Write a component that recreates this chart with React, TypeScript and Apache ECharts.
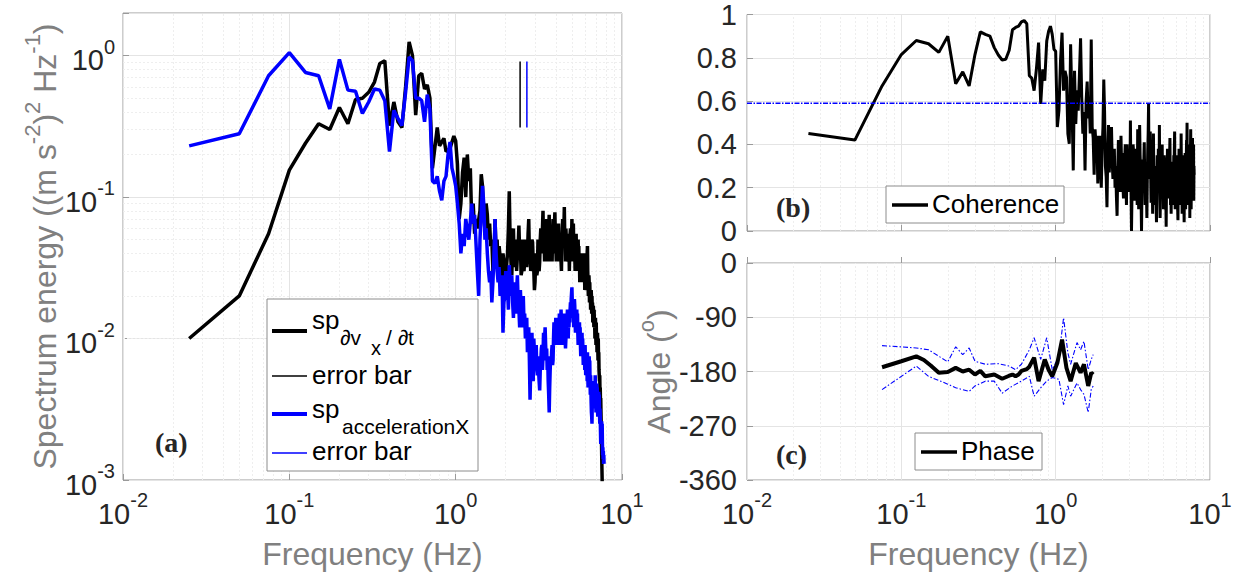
import React, { useEffect, useRef } from "react";
import * as echarts from "echarts";

// ---------------- data ----------------
const spDvdt: [number, number][] = [
  [0.025, 0.01], [0.05, 0.02], [0.075, 0.055], [0.1, 0.155], [0.125, 0.24], [0.15, 0.33],
  [0.175, 0.3], [0.2, 0.43], [0.225, 0.33], [0.25, 0.49], [0.275, 0.5], [0.3, 0.55],
  [0.325, 0.65], [0.35, 0.88], [0.375, 0.92], [0.4, 0.32], [0.425, 0.47], [0.45, 0.34],
  [0.475, 0.31], [0.5, 0.6], [0.525, 1.25], [0.55, 1.0], [0.575, 0.38], [0.6, 0.72],
  [0.625, 0.75], [0.65, 0.58], [0.675, 0.62], [0.7, 0.5], [0.725, 0.16], [0.775, 0.31],
  [0.8, 0.23], [0.85, 0.26], [0.875, 0.21], [0.925, 0.22], [0.975, 0.27], [1.0, 0.25],
  [1.025, 0.17], [1.05, 0.07], [1.075, 0.09], [1.1, 0.15], [1.125, 0.19], [1.15, 0.1],
  [1.175, 0.2], [1.2, 0.13], [1.225, 0.16], [1.25, 0.065], [1.275, 0.09], [1.3, 0.055],
  [1.325, 0.07], [1.35, 0.06], [1.4, 0.08], [1.425, 0.145], [1.45, 0.12], [1.475, 0.07],
  [1.5, 0.06], [1.525, 0.09], [1.55, 0.075], [1.575, 0.05], [1.6, 0.065], [1.625, 0.045],
  [1.65, 0.05], [1.675, 0.03], [1.7, 0.035], [1.725, 0.07], [1.75, 0.04], [1.775, 0.05],
  [1.8, 0.032], [1.825, 0.045], [1.85, 0.038], [1.875, 0.025], [1.9, 0.028], [1.925, 0.04],
  [1.95, 0.035], [1.975, 0.022], [2.0, 0.025], [2.025, 0.033], [2.05, 0.04], [2.075, 0.06],
  [2.1, 0.11], [2.125, 0.05], [2.15, 0.035], [2.175, 0.028], [2.2, 0.045], [2.225, 0.06],
  [2.25, 0.032], [2.275, 0.04], [2.3, 0.05], [2.325, 0.03], [2.35, 0.038], [2.375, 0.045],
  [2.4, 0.063], [2.425, 0.04], [2.45, 0.045], [2.475, 0.028], [2.5, 0.03], [2.525, 0.05],
  [2.55, 0.042], [2.575, 0.03], [2.6, 0.035], [2.625, 0.045], [2.65, 0.05], [2.675, 0.032],
  [2.7, 0.038], [2.725, 0.055], [2.75, 0.07], [2.775, 0.04], [2.8, 0.045], [2.825, 0.03],
  [2.85, 0.035], [2.875, 0.05], [2.9, 0.048], [2.925, 0.035], [2.95, 0.03], [2.975, 0.022],
  [3.0, 0.025], [3.025, 0.035], [3.05, 0.04], [3.075, 0.028], [3.1, 0.03], [3.125, 0.05],
  [3.15, 0.045], [3.175, 0.03], [3.2, 0.035], [3.225, 0.05], [3.25, 0.06], [3.275, 0.04],
  [3.3, 0.045], [3.325, 0.06], [3.35, 0.08], [3.375, 0.045], [3.4, 0.05], [3.425, 0.035],
  [3.45, 0.065], [3.475, 0.05], [3.5, 0.04], [3.525, 0.07], [3.55, 0.055], [3.575, 0.035],
  [3.6, 0.045], [3.625, 0.06], [3.65, 0.075], [3.675, 0.045], [3.7, 0.05], [3.725, 0.035],
  [3.75, 0.06], [3.775, 0.045], [3.8, 0.035], [3.825, 0.055], [3.85, 0.07], [3.875, 0.04],
  [3.9, 0.05], [3.925, 0.065], [3.95, 0.078], [3.975, 0.05], [4.0, 0.045], [4.025, 0.035],
  [4.05, 0.06], [4.075, 0.05], [4.1, 0.04], [4.125, 0.055], [4.15, 0.065], [4.175, 0.04],
  [4.2, 0.05], [4.225, 0.035], [4.25, 0.055], [4.275, 0.045], [4.3, 0.035], [4.325, 0.03],
  [4.35, 0.05], [4.375, 0.06], [4.4, 0.07], [4.425, 0.05], [4.45, 0.045], [4.475, 0.06],
  [4.5, 0.085], [4.525, 0.055], [4.55, 0.05], [4.575, 0.035], [4.6, 0.06], [4.625, 0.05],
  [4.65, 0.04], [4.675, 0.055], [4.7, 0.05], [4.725, 0.04], [4.75, 0.035], [4.775, 0.05],
  [4.8, 0.045], [4.825, 0.03], [4.85, 0.04], [4.875, 0.055], [4.9, 0.06], [4.925, 0.045],
  [4.95, 0.04], [4.975, 0.05], [5.0, 0.07], [5.025, 0.045], [5.05, 0.05], [5.075, 0.035],
  [5.1, 0.065], [5.125, 0.045], [5.15, 0.04], [5.175, 0.05], [5.2, 0.04], [5.225, 0.03],
  [5.25, 0.045], [5.275, 0.05], [5.3, 0.055], [5.325, 0.035], [5.35, 0.04], [5.375, 0.03],
  [5.4, 0.03], [5.425, 0.042], [5.45, 0.05], [5.475, 0.035], [5.5, 0.045], [5.525, 0.03],
  [5.55, 0.035], [5.575, 0.025], [5.6, 0.03], [5.625, 0.04], [5.65, 0.038], [5.675, 0.028],
  [5.7, 0.038], [5.725, 0.03], [5.75, 0.033], [5.775, 0.025], [5.8, 0.028], [5.825, 0.036],
  [5.85, 0.04], [5.875, 0.03], [5.9, 0.04], [5.925, 0.028], [5.95, 0.03], [5.975, 0.022],
  [6.0, 0.026], [6.025, 0.032], [6.05, 0.035], [6.075, 0.025], [6.1, 0.035], [6.125, 0.028],
  [6.15, 0.03], [6.175, 0.04], [6.2, 0.045], [6.225, 0.03], [6.25, 0.025], [6.275, 0.02],
  [6.3, 0.022], [6.325, 0.028], [6.35, 0.025], [6.375, 0.018], [6.4, 0.025], [6.425, 0.02],
  [6.45, 0.022], [6.475, 0.016], [6.5, 0.018], [6.525, 0.022], [6.55, 0.02], [6.575, 0.015],
  [6.6, 0.02], [6.625, 0.016], [6.65, 0.018], [6.675, 0.013], [6.7, 0.014], [6.725, 0.017],
  [6.75, 0.015], [6.775, 0.012], [6.8, 0.016], [6.825, 0.012], [6.85, 0.013], [6.875, 0.01],
  [6.9, 0.012], [6.925, 0.014], [6.95, 0.011], [6.975, 0.009], [7.0, 0.013], [7.025, 0.01],
  [7.05, 0.011], [7.075, 0.008], [7.1, 0.009], [7.125, 0.011], [7.15, 0.009], [7.175, 0.007],
  [7.2, 0.01], [7.225, 0.007], [7.25, 0.008], [7.275, 0.006], [7.3, 0.006], [7.325, 0.005],
  [7.35, 0.0055], [7.375, 0.004], [7.4, 0.0045], [7.425, 0.0035], [7.45, 0.0038], [7.475, 0.003],
  [7.5, 0.003], [7.525, 0.002], [7.55, 0.0015], [7.575, 0.0012], [7.6, 0.00098],
];

const spAccX: [number, number][] = [
  [0.025, 0.23], [0.05, 0.28], [0.075, 0.72], [0.1, 1.05], [0.125, 0.76], [0.15, 0.72],
  [0.175, 0.42], [0.2, 0.94], [0.225, 0.57], [0.25, 0.56], [0.275, 0.39], [0.3, 0.47],
  [0.325, 0.58], [0.35, 0.57], [0.375, 0.48], [0.4, 0.21], [0.425, 0.41], [0.45, 0.36],
  [0.475, 0.32], [0.5, 0.55], [0.525, 0.98], [0.55, 0.92], [0.575, 0.5], [0.6, 0.5],
  [0.625, 0.48], [0.65, 0.34], [0.675, 0.53], [0.7, 0.42], [0.725, 0.13], [0.75, 0.125],
  [0.775, 0.14], [0.8, 0.11], [0.825, 0.095], [0.85, 0.13], [0.875, 0.14], [0.9, 0.2],
  [0.925, 0.245], [0.95, 0.16], [0.975, 0.14], [1.0, 0.12], [1.025, 0.09], [1.05, 0.065],
  [1.075, 0.04], [1.1, 0.055], [1.125, 0.045], [1.15, 0.07], [1.2, 0.05], [1.25, 0.09],
  [1.275, 0.065], [1.3, 0.075], [1.35, 0.03], [1.375, 0.02], [1.4, 0.05], [1.45, 0.12],
  [1.475, 0.09], [1.5, 0.05], [1.525, 0.06], [1.55, 0.04], [1.575, 0.03], [1.6, 0.025],
  [1.625, 0.03], [1.65, 0.018], [1.675, 0.025], [1.7, 0.04], [1.725, 0.07], [1.75, 0.04],
  [1.775, 0.03], [1.8, 0.025], [1.825, 0.032], [1.85, 0.02], [1.875, 0.024], [1.9, 0.028],
  [1.925, 0.011], [1.95, 0.018], [1.975, 0.02], [2.0, 0.03], [2.025, 0.02], [2.05, 0.022],
  [2.075, 0.016], [2.1, 0.033], [2.125, 0.025], [2.15, 0.02], [2.175, 0.028], [2.2, 0.018],
  [2.225, 0.014], [2.25, 0.025], [2.275, 0.02], [2.3, 0.015], [2.325, 0.022], [2.35, 0.028],
  [2.375, 0.018], [2.4, 0.016], [2.425, 0.012], [2.45, 0.022], [2.475, 0.016], [2.5, 0.012],
  [2.525, 0.017], [2.55, 0.02], [2.575, 0.013], [2.6, 0.015], [2.625, 0.01], [2.65, 0.011],
  [2.675, 0.014], [2.7, 0.008], [2.725, 0.01], [2.75, 0.012], [2.775, 0.007], [2.8, 0.0037],
  [2.825, 0.006], [2.85, 0.009], [2.875, 0.011], [2.9, 0.007], [2.925, 0.005], [2.95, 0.01],
  [2.975, 0.008], [3.0, 0.006], [3.025, 0.007], [3.05, 0.009], [3.075, 0.006], [3.1, 0.0055],
  [3.125, 0.0075], [3.15, 0.006], [3.175, 0.005], [3.2, 0.0043], [3.225, 0.006], [3.25, 0.007],
  [3.275, 0.0085], [3.3, 0.009], [3.325, 0.006], [3.35, 0.0075], [3.375, 0.011], [3.4, 0.008],
  [3.425, 0.01], [3.45, 0.012], [3.475, 0.009], [3.5, 0.007], [3.525, 0.0085], [3.55, 0.006],
  [3.575, 0.0075], [3.6, 0.005], [3.625, 0.004], [3.65, 0.003], [3.675, 0.0045], [3.7, 0.006],
  [3.725, 0.0075], [3.75, 0.0065], [3.775, 0.008], [3.8, 0.009], [3.825, 0.0065], [3.85, 0.007],
  [3.875, 0.01], [3.9, 0.013], [3.925, 0.01], [3.95, 0.009], [3.975, 0.012], [4.0, 0.014],
  [4.025, 0.011], [4.05, 0.009], [4.075, 0.012], [4.1, 0.01], [4.125, 0.013], [4.15, 0.011],
  [4.175, 0.0095], [4.2, 0.015], [4.225, 0.012], [4.25, 0.009], [4.275, 0.012], [4.3, 0.016],
  [4.325, 0.013], [4.35, 0.01], [4.375, 0.014], [4.4, 0.011], [4.425, 0.009], [4.45, 0.012],
  [4.475, 0.013], [4.5, 0.015], [4.525, 0.011], [4.55, 0.01], [4.575, 0.0085], [4.6, 0.01],
  [4.625, 0.013], [4.65, 0.012], [4.675, 0.014], [4.7, 0.016], [4.725, 0.012], [4.75, 0.01],
  [4.775, 0.013], [4.8, 0.012], [4.825, 0.015], [4.85, 0.013], [4.875, 0.016], [4.9, 0.018],
  [4.925, 0.014], [4.95, 0.019], [4.975, 0.021], [5.0, 0.023], [5.025, 0.018], [5.05, 0.014],
  [5.075, 0.016], [5.1, 0.015], [5.125, 0.012], [5.15, 0.016], [5.175, 0.019], [5.2, 0.017],
  [5.225, 0.013], [5.25, 0.011], [5.275, 0.014], [5.3, 0.011], [5.325, 0.013], [5.35, 0.016],
  [5.375, 0.012], [5.4, 0.015], [5.425, 0.011], [5.45, 0.009], [5.475, 0.012], [5.5, 0.009],
  [5.525, 0.011], [5.55, 0.013], [5.575, 0.01], [5.6, 0.012], [5.625, 0.009], [5.65, 0.0075],
  [5.675, 0.01], [5.7, 0.008], [5.725, 0.0095], [5.75, 0.011], [5.775, 0.0085], [5.8, 0.01],
  [5.825, 0.008], [5.85, 0.0065], [5.875, 0.008], [5.9, 0.007], [5.925, 0.009], [5.95, 0.0075],
  [5.975, 0.006], [6.0, 0.009], [6.025, 0.007], [6.05, 0.0055], [6.075, 0.0065], [6.1, 0.006],
  [6.125, 0.008], [6.15, 0.0065], [6.175, 0.005], [6.2, 0.008], [6.225, 0.006], [6.25, 0.0045],
  [6.275, 0.0055], [6.3, 0.005], [6.325, 0.0065], [6.35, 0.0075], [6.375, 0.0055], [6.4, 0.007],
  [6.425, 0.005], [6.45, 0.004], [6.475, 0.0055], [6.5, 0.0045], [6.525, 0.0035], [6.55, 0.003],
  [6.575, 0.0028], [6.6, 0.0025], [6.625, 0.0035], [6.65, 0.0045], [6.675, 0.004], [6.7, 0.005],
  [6.725, 0.0038], [6.75, 0.0032], [6.775, 0.0045], [6.8, 0.004], [6.825, 0.005], [6.85, 0.0042],
  [6.875, 0.0035], [6.9, 0.0055], [6.925, 0.0045], [6.95, 0.0038], [6.975, 0.003], [7.0, 0.0035],
  [7.025, 0.0042], [7.05, 0.0048], [7.075, 0.0036], [7.1, 0.0045], [7.125, 0.0032], [7.15, 0.0028],
  [7.175, 0.0036], [7.2, 0.003], [7.225, 0.0038], [7.25, 0.0042], [7.275, 0.0032], [7.3, 0.004],
  [7.325, 0.003], [7.35, 0.0025], [7.375, 0.0032], [7.4, 0.0028], [7.425, 0.0022], [7.45, 0.0018],
  [7.475, 0.0021], [7.5, 0.0018], [7.525, 0.0024], [7.55, 0.0026], [7.575, 0.002], [7.6, 0.0025],
  [7.625, 0.0018], [7.65, 0.0015], [7.675, 0.0017], [7.7, 0.0014], [7.725, 0.0016], [7.75, 0.0013],
  [7.775, 0.0015], [7.8, 0.0013],
];

const errBarDvdt: [number, number][] = [[2.44, 0.31], [2.44, 0.91]];
const errBarAccX: [number, number][] = [[2.68, 0.31], [2.68, 0.91]];

const coherence: [number, number][] = [
  [0.025, 0.45], [0.05, 0.42], [0.075, 0.67], [0.1, 0.815], [0.125, 0.88], [0.15, 0.865],
  [0.175, 0.825], [0.2, 0.9], [0.225, 0.68], [0.25, 0.735], [0.275, 0.67], [0.3, 0.815],
  [0.325, 0.92], [0.35, 0.908], [0.375, 0.9], [0.4, 0.847], [0.425, 0.813], [0.45, 0.79],
  [0.475, 0.793], [0.5, 0.835], [0.525, 0.93], [0.55, 0.94], [0.575, 0.946], [0.6, 0.966],
  [0.625, 0.972], [0.65, 0.957], [0.675, 0.717], [0.7, 0.706], [0.725, 0.648], [0.75, 0.747],
  [0.775, 0.87], [0.8, 0.587], [0.825, 0.747], [0.85, 0.694], [0.875, 0.877], [0.9, 0.923],
  [0.925, 0.946], [0.95, 0.908], [0.975, 0.839], [1.0, 0.83], [1.025, 0.48], [1.05, 0.556],
  [1.075, 0.786], [1.1, 0.916], [1.125, 0.648], [1.15, 0.74], [1.175, 0.71], [1.2, 0.449],
  [1.225, 0.403], [1.25, 0.862], [1.275, 0.6], [1.3, 0.28], [1.325, 0.74], [1.35, 0.495],
  [1.375, 0.65], [1.4, 0.556], [1.425, 0.72], [1.45, 0.89], [1.475, 0.62], [1.5, 0.449],
  [1.525, 0.55], [1.55, 0.28], [1.575, 0.6], [1.6, 0.69], [1.625, 0.52], [1.65, 0.6],
  [1.675, 0.45], [1.7, 0.885], [1.725, 0.48], [1.75, 0.43], [1.775, 0.26], [1.8, 0.47],
  [1.825, 0.4], [1.85, 0.44], [1.875, 0.22], [1.9, 0.38], [1.925, 0.44], [1.95, 0.3],
  [1.975, 0.2], [2.0, 0.38], [2.025, 0.48], [2.05, 0.7], [2.075, 0.55], [2.1, 0.3],
  [2.125, 0.25], [2.15, 0.11], [2.175, 0.35], [2.2, 0.49], [2.225, 0.27], [2.25, 0.36],
  [2.275, 0.42], [2.3, 0.48], [2.325, 0.32], [2.35, 0.24], [2.375, 0.3], [2.4, 0.38],
  [2.425, 0.2], [2.45, 0.3], [2.475, 0.16], [2.5, 0.07], [2.525, 0.28], [2.55, 0.42],
  [2.575, 0.35], [2.6, 0.28], [2.625, 0.18], [2.65, 0.44], [2.675, 0.3], [2.7, 0.36],
  [2.725, 0.22], [2.75, 0.15], [2.775, 0.27], [2.8, 0.33], [2.825, 0.4], [2.85, 0.26],
  [2.875, 0.12], [2.9, 0.4], [2.925, 0.3], [2.95, 0.18], [2.975, 0.25], [3.0, 0.3],
  [3.025, 0.2], [3.05, 0.51], [3.075, 0.22], [3.1, 0.0], [3.125, 0.18], [3.15, 0.25],
  [3.175, 0.4], [3.2, 0.36], [3.225, 0.2], [3.25, 0.14], [3.275, 0.26], [3.3, 0.3],
  [3.325, 0.38], [3.35, 0.22], [3.375, 0.12], [3.4, 0.47], [3.425, 0.3], [3.45, 0.1],
  [3.475, 0.25], [3.5, 0.49], [3.525, 0.35], [3.55, 0.28], [3.575, 0.15], [3.6, 0.0],
  [3.625, 0.2], [3.65, 0.33], [3.675, 0.25], [3.7, 0.2], [3.725, 0.32], [3.75, 0.41],
  [3.775, 0.25], [3.8, 0.12], [3.825, 0.22], [3.85, 0.32], [3.875, 0.18], [3.9, 0.06],
  [3.925, 0.25], [3.95, 0.37], [3.975, 0.45], [4.0, 0.59], [4.025, 0.3], [4.05, 0.24],
  [4.075, 0.35], [4.1, 0.46], [4.125, 0.28], [4.15, 0.13], [4.175, 0.2], [4.2, 0.33],
  [4.225, 0.24], [4.25, 0.08], [4.275, 0.3], [4.3, 0.45], [4.325, 0.27], [4.35, 0.12],
  [4.375, 0.2], [4.4, 0.3], [4.425, 0.16], [4.45, 0.25], [4.475, 0.14], [4.5, 0.04],
  [4.525, 0.2], [4.55, 0.35], [4.575, 0.28], [4.6, 0.22], [4.625, 0.38], [4.65, 0.3],
  [4.675, 0.18], [4.7, 0.49], [4.725, 0.2], [4.75, 0.06], [4.775, 0.15], [4.8, 0.28],
  [4.825, 0.2], [4.85, 0.35], [4.875, 0.22], [4.9, 0.4], [4.925, 0.25], [4.95, 0.15],
  [4.975, 0.3], [5.0, 0.1], [5.025, 0.22], [5.05, 0.35], [5.075, 0.28], [5.1, 0.34],
  [5.125, 0.18], [5.15, 0.1], [5.175, 0.15], [5.2, 0.02], [5.225, 0.2], [5.25, 0.3],
  [5.275, 0.22], [5.3, 0.38], [5.325, 0.28], [5.35, 0.15], [5.375, 0.25], [5.4, 0.15],
  [5.425, 0.3], [5.45, 0.2], [5.475, 0.35], [5.5, 0.43], [5.525, 0.25], [5.55, 0.12],
  [5.575, 0.2], [5.6, 0.08], [5.625, 0.22], [5.65, 0.32], [5.675, 0.18], [5.7, 0.32],
  [5.725, 0.25], [5.75, 0.12], [5.775, 0.3], [5.8, 0.2], [5.825, 0.35], [5.85, 0.25],
  [5.875, 0.38], [5.9, 0.46], [5.925, 0.2], [5.95, 0.1], [5.975, 0.22], [6.0, 0.1],
  [6.025, 0.25], [6.05, 0.35], [6.075, 0.2], [6.1, 0.35], [6.125, 0.15], [6.15, 0.28],
  [6.175, 0.1], [6.2, 0.05], [6.225, 0.2], [6.25, 0.3], [6.275, 0.22], [6.3, 0.38],
  [6.325, 0.25], [6.35, 0.12], [6.375, 0.3], [6.4, 0.18], [6.425, 0.28], [6.45, 0.35],
  [6.475, 0.2], [6.5, 0.45], [6.525, 0.3], [6.55, 0.15], [6.575, 0.25], [6.6, 0.08],
  [6.625, 0.2], [6.65, 0.35], [6.675, 0.22], [6.7, 0.3], [6.725, 0.15], [6.75, 0.25],
  [6.775, 0.12], [6.8, 0.04], [6.825, 0.2], [6.85, 0.3], [6.875, 0.25], [6.9, 0.36],
  [6.925, 0.2], [6.95, 0.1], [6.975, 0.28], [7.0, 0.2], [7.025, 0.35], [7.05, 0.42],
  [7.075, 0.3], [7.1, 0.5], [7.125, 0.25], [7.15, 0.15], [7.175, 0.3], [7.2, 0.12],
  [7.225, 0.25], [7.25, 0.35], [7.275, 0.2], [7.3, 0.4], [7.325, 0.22], [7.35, 0.15],
  [7.375, 0.3], [7.4, 0.06], [7.425, 0.2], [7.45, 0.3], [7.475, 0.38], [7.5, 0.47],
  [7.525, 0.25], [7.55, 0.1], [7.575, 0.28], [7.6, 0.15], [7.625, 0.3], [7.65, 0.35],
  [7.675, 0.2], [7.7, 0.43], [7.725, 0.3], [7.75, 0.18], [7.775, 0.28], [7.8, 0.22],
  [7.825, 0.4], [7.85, 0.14], [7.875, 0.3], [7.9, 0.26],
];
const coherenceThreshold = 0.59;

const phase: [number, number][] = [
  [0.075, -173], [0.1, -163], [0.125, -155], [0.14, -161], [0.155, -170], [0.175, -182],
  [0.2, -181], [0.225, -174], [0.25, -180], [0.275, -177], [0.3, -185], [0.325, -179],
  [0.35, -188], [0.4, -185], [0.45, -192], [0.5, -187], [0.525, -185], [0.55, -188],
  [0.575, -185], [0.6, -179], [0.65, -176], [0.675, -172], [0.725, -157], [0.775, -196],
  [0.85, -160], [0.9, -177], [0.95, -188], [1.025, -166], [1.1, -127], [1.175, -174],
  [1.25, -196], [1.35, -166], [1.45, -182], [1.525, -168], [1.625, -204], [1.7, -182], [1.75, -185],
];
const phaseUpper: [number, number][] = [
  [0.075, -137], [0.125, -141], [0.15, -144], [0.2, -164], [0.225, -139], [0.25, -152],
  [0.275, -141], [0.3, -163], [0.35, -168], [0.425, -167], [0.5, -171], [0.55, -177],
  [0.6, -168], [0.675, -144], [0.725, -124], [0.8, -160], [0.875, -124], [0.95, -177],
  [1.05, -155], [1.125, -91], [1.2, -149], [1.25, -168], [1.375, -132], [1.45, -144],
  [1.525, -130], [1.625, -177], [1.7, -160], [1.75, -152],
];
const phaseLower: [number, number][] = [
  [0.075, -210], [0.125, -171], [0.15, -188], [0.2, -201], [0.225, -207], [0.275, -213],
  [0.3, -204], [0.35, -196], [0.4, -196], [0.45, -216], [0.525, -204], [0.6, -196],
  [0.675, -188], [0.725, -221], [0.8, -207], [0.875, -196], [0.95, -190], [1.05, -193],
  [1.125, -235], [1.2, -204], [1.25, -221], [1.375, -199], [1.45, -210], [1.525, -218],
  [1.625, -248], [1.7, -210], [1.75, -204],
];

const FREQ_MIN = 0.01;
const FREQ_MAX = 10;
const freqDecades = [0.01, 0.1, 1];
const specDecades = [0.001, 0.01, 0.1, 1];
const minorSteps = [2, 3, 4, 5, 6, 7, 8, 9];

// ---------------- styles ----------------
const FONT = '"Liberation Sans", Arial, Helvetica, sans-serif';
const TICK = "#262626";
const TITLE = "#808080";
const BOX = "#9a9a9a";
const MAJOR = "#e4e4e4";
const MINOR = "#eeeeee";
const BLUE = "#0000ff";

const supRich = {
  b: { fontSize: 29, fontFamily: FONT, color: TICK, verticalAlign: "bottom" },
  s: { fontSize: 20, fontFamily: FONT, color: TICK, verticalAlign: "bottom", padding: [0, 0, 18, 0] },
};
const titleRich = {
  t: { fontSize: 32, fontFamily: FONT, color: TITLE, verticalAlign: "bottom" },
  u: { fontSize: 22, fontFamily: FONT, color: TITLE, verticalAlign: "bottom", padding: [0, 0, 18, 0] },
};

const powLabel = (v: number) => {
  const l = Math.log10(v);
  const e = Math.round(l);
  if (Math.abs(l - e) > 1e-6) return "";
  return `{b|10}{s|${e}}`;
};

const minorValues = (decades: number[], maxV: number) => {
  const out: number[] = [];
  decades.forEach((d) => minorSteps.forEach((m) => { if (d * m < maxV) out.push(+(d * m).toPrecision(3)); }));
  return out;
};

const tick = { show: true, inside: true, length: 6, lineStyle: { color: BOX } };

const logX = (gridIndex: number, labels: boolean, name?: string) => ({
  type: "log", logBase: 10, gridIndex, min: FREQ_MIN, max: FREQ_MAX,
  axisLine: { show: false },
  axisTick: tick,
  axisLabel: labels ? { show: true, formatter: powLabel, rich: supRich, margin: 10 } : { show: false },
  splitLine: { show: true, lineStyle: { color: MAJOR, width: 1 } },
  name, nameLocation: "middle", nameGap: 58,
  nameTextStyle: { fontSize: 32, color: TITLE, fontFamily: FONT },
});

const minorSeries = (xIdx: number, axis: "x" | "y", values: number[]) => ({
  type: "line", xAxisIndex: xIdx, yAxisIndex: xIdx, data: [], silent: true, z: 1,
  markLine: {
    silent: true, z: 1, symbol: ["none", "none"], label: { show: false }, animation: false,
    lineStyle: { color: MINOR, type: [2, 2], width: 1 },
    data: values.map((v) => (axis === "x" ? { xAxis: v } : { yAxis: v })),
  },
});

const txt = (x: number, y: number, text: string, size: number, extra: any = {}) => ({
  type: "text", x, y, z: 100,
  style: { text, fontSize: size, fontFamily: FONT, fill: "#000", verticalAlign: "middle", align: "left", ...extra },
});
const seg = (x1: number, x2: number, y: number, color: string, w: number) => ({
  type: "line", z: 100, shape: { x1, y1: y, x2, y2: y }, style: { stroke: color, lineWidth: w },
});
const box = (x: number, y: number, width: number, height: number) => ({
  type: "rect", z: 99, shape: { x, y, width, height }, style: { fill: "#fff", stroke: "#8c8c8c", lineWidth: 1 },
});
const panel = (x: number, y: number, t: string) => ({
  type: "text", x, y, z: 100,
  style: { text: t, fontSize: 28, fontFamily: '"Liberation Serif", "DejaVu Serif", serif', fontWeight: "bold", fill: "#262626", verticalAlign: "middle" },
});

export default function App() {
  const ref = useRef<HTMLDivElement>(null);
  useEffect(() => {
    document.body.style.margin = "0";
    if (!ref.current) return;
    const chart = echarts.init(ref.current, undefined, { renderer: "svg" });
    const gridStyle = { show: true, borderColor: BOX, borderWidth: 1, backgroundColor: "transparent" };
    chart.setOption({
      animation: false,
      backgroundColor: "#fff",
      grid: [
        { left: 123, top: 13, width: 499, height: 467, ...gridStyle },
        { left: 747, top: 13, width: 463, height: 218, ...gridStyle },
        { left: 747, top: 263, width: 463, height: 217, ...gridStyle },
      ],
      xAxis: [logX(0, true, "Frequency (Hz)"), logX(1, false), logX(2, true, "Frequency (Hz)")],
      yAxis: [
        {
          type: "log", logBase: 10, gridIndex: 0, min: 0.001, max: 2,
          axisLine: { show: false }, axisTick: tick,
          axisLabel: { formatter: powLabel, rich: supRich, margin: 8 },
          splitLine: { show: true, lineStyle: { color: MAJOR } },
          name: "{t|Spectrum energy ((m s}{u|-2}{t|)}{u|2}{t| Hz}{u|-1}{t|)}",
          nameLocation: "middle", nameRotate: 90, nameGap: 56,
          nameTextStyle: { rich: titleRich },
        },
        {
          type: "value", gridIndex: 1, min: 0, max: 1, interval: 0.2,
          axisLine: { show: false }, axisTick: tick,
          axisLabel: { fontSize: 29, fontFamily: FONT, color: TICK, margin: 10 },
          splitLine: { show: true, lineStyle: { color: MAJOR } },
        },
        {
          type: "value", gridIndex: 2, min: -360, max: 0, interval: 90,
          axisLine: { show: false }, axisTick: tick,
          axisLabel: { fontSize: 29, fontFamily: FONT, color: TICK, margin: 10 },
          splitLine: { show: true, lineStyle: { color: MAJOR } },
          name: "{t|Angle (}{u|o}{t|)}",
          nameLocation: "middle", nameRotate: 90, nameGap: 70,
          nameTextStyle: { rich: titleRich },
        },
      ],
      series: [
        minorSeries(0, "x", minorValues(freqDecades, FREQ_MAX)),
        minorSeries(0, "y", minorValues(specDecades, 2)),
        minorSeries(1, "x", minorValues(freqDecades, FREQ_MAX)),
        minorSeries(2, "x", minorValues(freqDecades, FREQ_MAX)),
        {
          name: "spDvdt", type: "line", xAxisIndex: 0, yAxisIndex: 0, data: spDvdt, showSymbol: false,
          lineStyle: { color: "#000", width: 3.5 }, itemStyle: { color: "#000" }, z: 10,
        },
        {
          name: "errDvdt", type: "line", xAxisIndex: 0, yAxisIndex: 0, data: errBarDvdt, showSymbol: false,
          lineStyle: { color: "#000", width: 1.5 }, z: 10,
        },
        {
          name: "spAccX", type: "line", xAxisIndex: 0, yAxisIndex: 0, data: spAccX, showSymbol: false,
          lineStyle: { color: BLUE, width: 3.5 }, itemStyle: { color: BLUE }, z: 11,
        },
        {
          name: "errAccX", type: "line", xAxisIndex: 0, yAxisIndex: 0, data: errBarAccX, showSymbol: false,
          lineStyle: { color: BLUE, width: 1.5 }, z: 11,
        },
        {
          name: "Coherence", type: "line", xAxisIndex: 1, yAxisIndex: 1, data: coherence, showSymbol: false,
          lineStyle: { color: "#000", width: 3 }, z: 10,
        },
        {
          name: "threshold", type: "line", xAxisIndex: 1, yAxisIndex: 1, silent: true, z: 12,
          data: [[FREQ_MIN, coherenceThreshold], [FREQ_MAX, coherenceThreshold]], showSymbol: false,
          itemStyle: { color: BLUE },
          lineStyle: { color: BLUE, type: [5, 1.5, 1.5, 1.5], width: 1.6 },
        },
        {
          name: "phaseUpper", type: "line", xAxisIndex: 2, yAxisIndex: 2, data: phaseUpper, showSymbol: false,
          lineStyle: { color: BLUE, width: 1.1, type: [5, 2, 1.5, 2] }, z: 10,
        },
        {
          name: "phaseLower", type: "line", xAxisIndex: 2, yAxisIndex: 2, data: phaseLower, showSymbol: false,
          lineStyle: { color: BLUE, width: 1.1, type: [5, 2, 1.5, 2] }, z: 10,
        },
        {
          name: "Phase", type: "line", xAxisIndex: 2, yAxisIndex: 2, data: phase, showSymbol: false,
          lineStyle: { color: "#000", width: 4 }, z: 11,
        },
      ],
      graphic: [
        // legend (a)
        box(267, 299, 211, 172),
        seg(272, 307, 331, "#000", 4),
        txt(312, 320, "sp", 26),
        txt(340, 337, "\u2202v", 21),
        txt(371, 348, "x", 20),
        txt(386, 337, "/ \u2202t", 21),
        seg(272, 307, 376, "#000", 1.5),
        txt(312, 375, "error bar", 26),
        seg(272, 307, 414, BLUE, 4),
        txt(312, 409, "sp", 26),
        txt(342, 426, "accelerationX", 21),
        seg(272, 307, 453, BLUE, 1.5),
        txt(312, 451, "error bar", 26),
        // legend (b)
        box(886, 186, 178, 37),
        seg(892, 928, 205, "#000", 3.5),
        txt(932, 204, "Coherence", 26),
        // legend (c)
        box(915, 433, 127, 37),
        seg(921, 957, 452, "#000", 3.5),
        txt(961, 451, "Phase", 26),
        panel(155, 442, "(a)"),
        panel(776, 207, "(b)"),
        panel(776, 454, "(c)"),
      ],
    });
    return () => chart.dispose();
  }, []);
  return <div ref={ref} style={{ width: 1238, height: 575 }} />;
}
